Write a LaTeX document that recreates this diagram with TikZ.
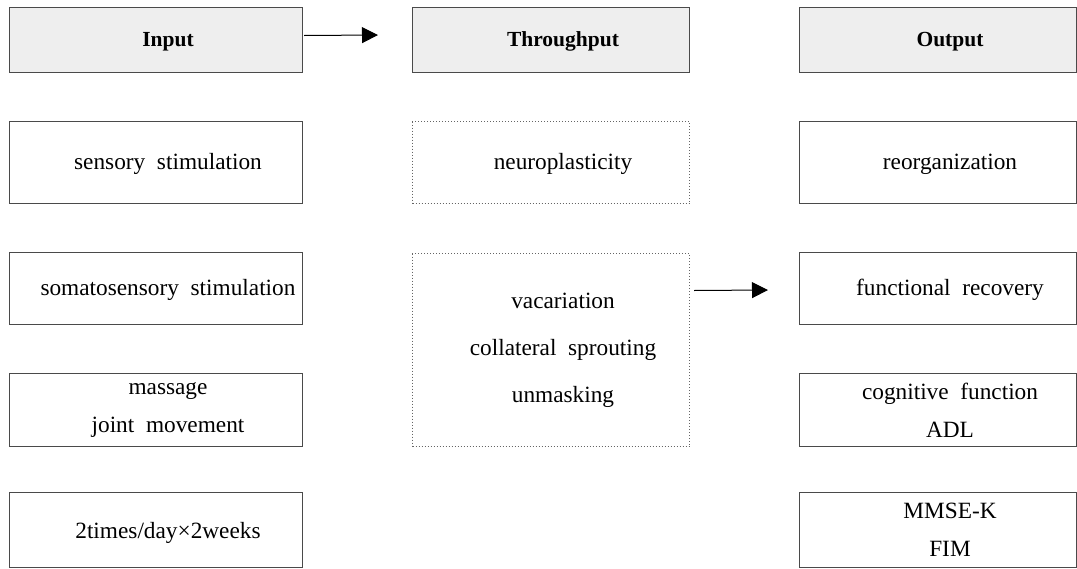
\documentclass[tikz,border=0pt]{standalone}
\usepackage{fontspec}
\setmainfont{Liberation Serif}
\usetikzlibrary{arrows.meta}
\definecolor{hdrfill}{HTML}{EEEEEE}
\definecolor{edge}{HTML}{4A4A4A}
\tikzset{
  box/.style={draw=edge, line width=1pt, rectangle, anchor=north west, inner sep=0pt},
  hdr/.style={box, fill=hdrfill},
  dotbox/.style={box, draw=edge!85, dotted, line width=1pt},
  txt/.style={align=center, inner sep=0pt, font=\fontsize{23.3}{38}\selectfont},
  txtwide/.style={align=center, inner sep=0pt, font=\fontsize{23.3}{47}\selectfont},
  hdrtxt/.style={inner sep=0pt, font=\fontsize{21.5}{26}\selectfont\bfseries},
  flow/.style={line width=1pt, -{Triangle[length=16pt,width=16pt]}}
}
\begin{document}
\begin{tikzpicture}[x=1pt,y=-1pt]
\useasboundingbox (0,0) rectangle (1077,568);
% headers
\node[hdr, minimum width=293, minimum height=65] (hin) at (9,7) {};
\node[hdr, minimum width=277, minimum height=65] (hth) at (412,7) {};
\node[hdr, minimum width=277, minimum height=65] (hout) at (799,7) {};
\node[hdrtxt] (thin) at ([xshift=12pt,yshift=-1.5pt]hin.center) {Input};
\node[hdrtxt] (thth) at ([xshift=12pt,yshift=-1.5pt]hth.center) {Throughput};
\node[hdrtxt] (thout) at ([xshift=12pt,yshift=-1.5pt]hout.center) {Output};
% input column
\node[box, minimum width=293, minimum height=82] (i1) at (9,121) {};
\node[box, minimum width=293, minimum height=72] (i2) at (9,252) {};
\node[box, minimum width=293, minimum height=73] (i3) at (9,373) {};
\node[box, minimum width=293, minimum height=75] (i4) at (9,492) {};
\node[txt] (ti1) at ([xshift=12pt,yshift=-1.5pt]i1.center) {sensory~~stimulation};
\node[txt] (ti2) at ([xshift=12pt,yshift=-1.5pt]i2.center) {somatosensory~~stimulation};
\node[txt] (ti3) at ([xshift=12pt]i3.center) {massage\\joint~~movement};
\node[txt] (ti4) at ([xshift=12pt,yshift=-3pt]i4.center) {2times/day×2weeks};
% throughput column
\node[dotbox, minimum width=277, minimum height=82] (t1) at (412,121) {};
\node[dotbox, minimum width=277, minimum height=193] (t2) at (412,253) {};
\node[txt] (tt1) at ([xshift=12pt,yshift=-1.5pt]t1.center) {neuroplasticity};
\node[txtwide] (tt2) at ([xshift=12pt]t2.center) {vacariation\\collateral~~sprouting\\unmasking};
% output column
\node[box, minimum width=277, minimum height=82] (o1) at (799,121) {};
\node[box, minimum width=277, minimum height=72] (o2) at (799,252) {};
\node[box, minimum width=277, minimum height=73] (o3) at (799,373) {};
\node[box, minimum width=277, minimum height=75] (o4) at (799,492) {};
\node[txt] (to1) at ([xshift=12pt,yshift=-1.5pt]o1.center) {reorganization};
\node[txt] (to2) at ([xshift=12pt,yshift=-1.5pt]o2.center) {functional~~recovery};
\node[txt] (to3) at ([xshift=12pt]o3.center) {cognitive~~function\\ADL};
\node[txt] (to4) at ([xshift=12pt]o4.center) {MMSE-K\\FIM};
% arrows
\coordinate (a1end) at (378,35);
\coordinate (a2end) at (768,290);
\draw[flow] ([xshift=1pt,yshift=4.5pt]hin.east) -- (a1end);
\draw[flow] ([xshift=4pt,yshift=59.5pt]t2.east) -- (a2end);
\end{tikzpicture}
\end{document}
